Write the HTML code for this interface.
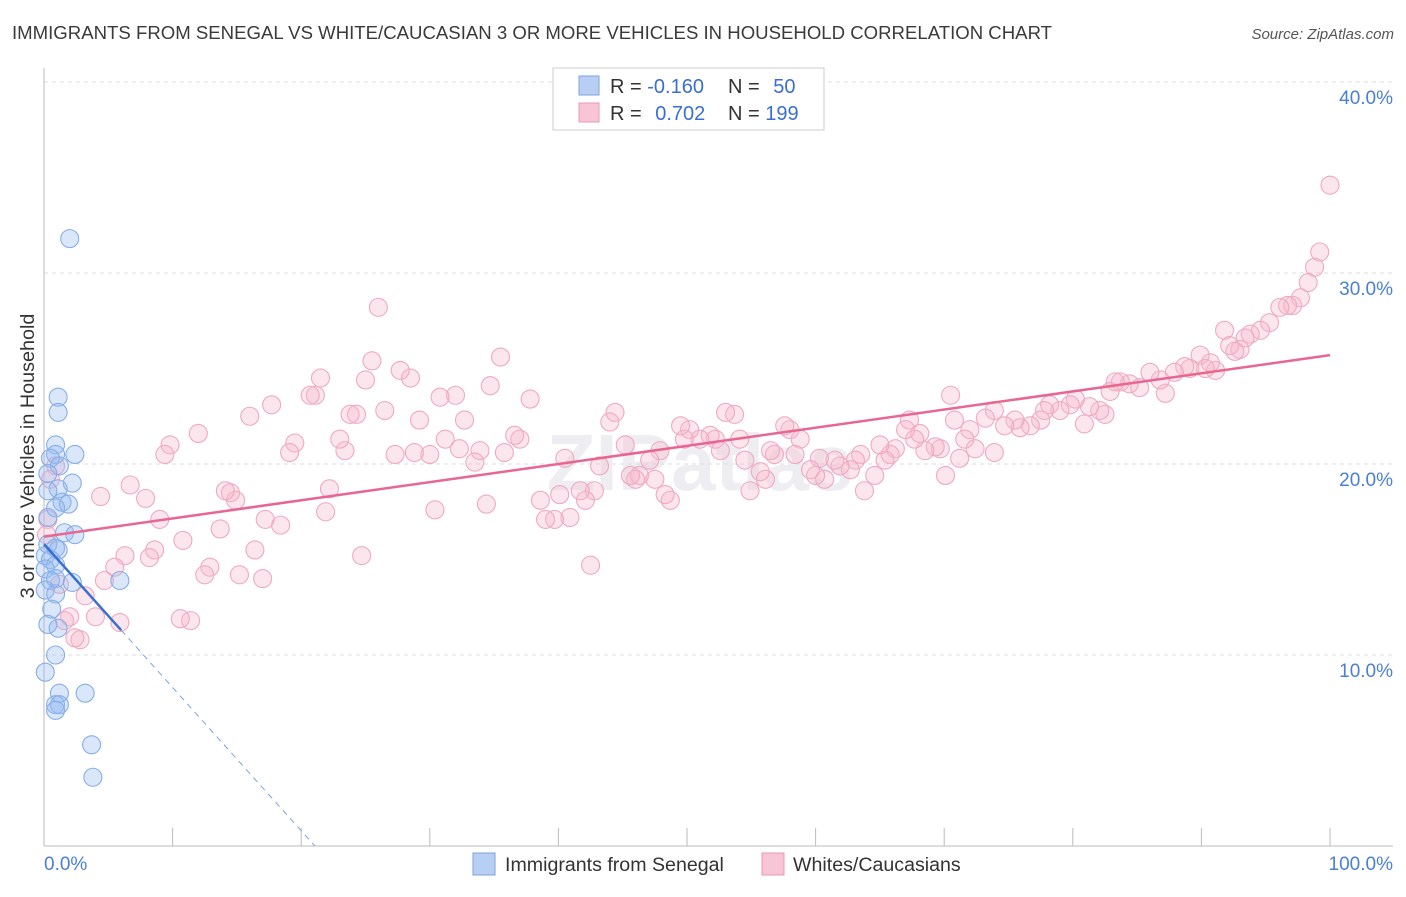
<!DOCTYPE html>
<html><head><meta charset="utf-8"><style>
body{margin:0;background:#fff;font-family:"Liberation Sans",sans-serif;}
svg text{font-family:"Liberation Sans",sans-serif;}
</style></head><body>
<svg id="chart" width="1406" height="892" xmlns="http://www.w3.org/2000/svg">
<text x="12" y="39" font-size="18.6" fill="#3a3a3a">IMMIGRANTS FROM SENEGAL VS WHITE/CAUCASIAN 3 OR MORE VEHICLES IN HOUSEHOLD CORRELATION CHART</text>
<text x="1394" y="39" font-size="15" fill="#555" text-anchor="end" font-style="italic">Source: ZipAtlas.com</text>
<text x="700" y="490" font-size="80" fill="#eeeef2" text-anchor="middle" font-weight="bold">ZIPatlas</text>
<g id="grid"></g>
<g id="axes"></g>
<g id="marks"></g>
<text transform="translate(34,456) rotate(-90)" font-size="19.8" fill="#333" text-anchor="middle">3 or more Vehicles in Household</text>
<g>
<rect x="553" y="68" width="271" height="62" fill="#fff" stroke="#ccc"/>
<rect x="579" y="76" width="20" height="19" fill="#b8cff3" stroke="#7ba3e0"/>
<rect x="579" y="103" width="20" height="19" fill="#f8c5d6" stroke="#e899b4"/>
<text x="610" y="93" font-size="20" fill="#333">R = <tspan fill="#3a6fd0">-0.160</tspan></text>
<text x="728" y="93" font-size="20" fill="#333">N = <tspan fill="#3a6fd0" dx="8">50</tspan></text>
<text x="610" y="120" font-size="20" fill="#333">R = <tspan fill="#3a6fd0" dx="8">0.702</tspan></text>
<text x="728" y="120" font-size="20" fill="#333">N = <tspan fill="#3a6fd0">199</tspan></text>
</g>
<rect x="473" y="853" width="22" height="22" fill="#b8cff3" stroke="#7ba3e0"/>
<text x="505" y="871" font-size="19.6" fill="#333">Immigrants from Senegal</text>
<rect x="762" y="853" width="22" height="22" fill="#f8c5d6" stroke="#e899b4"/>
<text x="793" y="871" font-size="19.6" fill="#333">Whites/Caucasians</text>
</svg>
<script>
const yTicks=[10,20,30,40];
const yTickLabels=["10.0%","20.0%","30.0%","40.0%"];
const xTickLabels=["0.0%","100.0%"];
const pinkX=[100.0,99.2,98.8,98.3,97.7,97.1,96.7,96.1,95.3,94.6,93.8,93.4,93.0,92.6,91.8,92.2,91.1,90.7,89.9,90.3,89.1,88.7,87.9,87.2,86.8,86.0,85.2,84.4,83.7,83.3,82.9,82.5,82.1,81.3,80.9,80.2,79.8,79.0,78.2,77.8,77.5,76.7,75.9,75.5,74.7,73.9,73.9,73.2,72.4,72.0,71.6,71.2,70.8,70.5,70.1,69.7,69.3,68.5,68.1,67.7,67.3,67.0,66.2,65.8,65.4,65.0,64.6,63.8,63.5,63.1,62.7,61.9,61.5,60.7,60.3,60.0,59.6,58.8,58.4,58.0,57.6,56.8,56.5,56.1,55.7,54.9,54.5,54.1,53.7,53.0,52.6,52.2,51.8,51.0,50.2,49.8,49.5,48.7,48.3,47.9,47.5,47.1,46.3,46.0,45.6,45.2,44.4,44.0,43.2,42.8,42.5,42.1,41.7,40.9,40.5,40.1,39.7,39.0,38.6,37.8,37.0,36.6,35.8,35.5,34.7,34.4,33.9,33.5,32.7,32.3,32.0,31.2,30.8,30.4,30.0,29.2,28.8,28.5,27.7,27.3,26.5,26.0,25.5,25.0,24.7,24.3,23.8,23.4,23.0,22.2,21.9,21.5,21.1,20.7,19.5,19.1,18.4,17.7,17.2,17.0,16.4,16.0,15.2,14.9,14.5,14.1,13.7,12.9,12.5,12.0,11.4,10.8,10.6,9.8,9.4,9.0,8.6,8.2,7.9,6.7,6.3,5.9,5.5,4.7,4.4,4.0,3.2,2.8,2.4,2.0,1.6,1.2,0.9,0.5,0.3,0.2];
const pinkY=[34.6,31.1,30.3,29.5,28.7,28.3,28.3,28.2,27.4,27.0,26.8,26.6,26.0,25.9,27.0,26.2,24.9,25.3,25.7,25.0,25.0,25.1,24.8,23.7,24.4,24.8,24.0,24.2,24.3,24.3,23.8,22.6,22.8,23.0,22.1,23.4,23.1,22.8,23.1,22.8,22.3,22.0,21.9,22.3,22.0,22.8,20.6,22.4,20.8,21.8,21.3,20.3,22.3,23.6,19.4,20.8,20.9,20.7,21.6,21.3,22.3,21.8,20.8,20.5,20.2,21.0,19.4,18.6,20.5,20.2,19.7,19.9,20.2,19.2,20.3,19.4,19.7,21.3,20.5,21.8,22.0,20.5,20.7,19.2,19.6,18.6,20.2,21.3,22.6,22.7,20.7,21.3,21.5,21.3,21.8,21.3,22.0,18.1,18.4,20.7,19.2,20.2,19.4,19.2,19.4,21.0,22.7,22.2,19.9,18.6,14.7,18.1,18.6,17.2,20.3,18.4,17.1,17.1,18.1,23.4,21.3,21.5,20.6,25.6,24.1,17.9,20.7,20.1,22.3,20.8,23.6,21.3,23.5,17.6,20.5,22.3,20.6,24.5,24.9,20.5,22.8,28.2,25.4,24.4,15.2,22.6,22.6,20.7,21.3,18.7,17.5,24.5,23.6,23.6,21.1,20.6,16.8,23.1,17.1,14.0,15.5,22.5,14.2,18.1,18.5,18.6,16.6,14.6,14.2,21.6,11.8,16.0,11.9,21.0,20.5,17.1,15.5,15.1,18.2,18.9,15.2,11.7,14.6,13.9,18.3,12.0,13.1,10.8,10.9,12.0,11.8,13.7,19.9,19.2,17.1,16.3];
const blueX=[2.0,1.1,1.1,0.9,0.9,0.5,1.2,2.4,0.3,2.2,1.1,0.3,1.4,1.9,0.9,0.3,1.6,2.4,0.3,0.9,0.1,1.1,0.5,0.9,0.1,0.5,0.9,0.1,0.9,2.2,5.9,0.6,0.3,1.1,0.9,0.1,1.2,3.2,0.9,1.2,0.9,3.7,3.8];
const blueY=[31.8,23.5,22.7,21.0,20.5,20.3,19.9,20.5,19.5,19.0,18.7,18.6,18.0,17.9,17.7,17.2,16.4,16.3,15.8,15.6,15.2,15.5,15.0,14.7,14.5,13.9,14.0,13.4,13.2,13.8,13.9,12.4,11.6,11.4,10.0,9.1,8.0,8.0,7.4,7.4,7.1,5.3,3.6];
const pinkTrend=[16.2,25.7];
const blueTrend=[15.8,-0.75];
const X=v=>44+v*12.86, Y=v=>846-v*19.1;
const NS="http://www.w3.org/2000/svg";
function mk(tag,attrs,parent){const e=document.createElementNS(NS,tag);for(const k in attrs)e.setAttribute(k,attrs[k]);document.getElementById(parent).appendChild(e);return e;}
yTicks.forEach((t,i)=>{
 const l=mk('line',{x1:44,x2:1393,y1:Y(t),y2:Y(t),stroke:'#dcdcdc','stroke-dasharray':'4,4'},'grid');
 
 
 const tx=mk('text',{x:1393,y:Y(t)+22,'font-size':19,fill:'#4a7fd4','text-anchor':'end'},'grid');
 tx.textContent=yTickLabels[i];
 
 
});
const ax=mk('line',{x1:44,x2:1393,y1:846,y2:846,stroke:'#bbb'},'axes');


const ay=mk('line',{x1:44,x2:44,y1:68,y2:846,stroke:'#bbb'},'axes');


for(let i=0;i<=10;i++){const t=mk('line',{x1:X(i*10),x2:X(i*10),y1:828,y2:846,stroke:'#bbb'},'axes');
 
 }
[[0,'start',44],[1,'end',1393]].forEach(([i,a,x])=>{const t=mk('text',{x:x,y:870,'font-size':19,fill:'#4a7fd4','text-anchor':a},'axes');t.textContent=xTickLabels[i];
 
 });
pinkX.forEach((v,i)=>{const c=mk('circle',{cx:X(v),cy:Y(pinkY[i]),r:9,fill:'rgba(246,182,204,0.35)',stroke:'#efa9c1','stroke-width':1.1},'marks');
 
 });
blueX.forEach((v,i)=>{const c=mk('circle',{cx:X(v),cy:Y(blueY[i]),r:9,fill:'rgba(150,185,240,0.35)',stroke:'#86aee6','stroke-width':1.1},'marks');
 
 });
const pl=mk('line',{x1:X(0),y1:Y(pinkTrend[0]),x2:X(100),y2:Y(pinkTrend[1]),stroke:'#e8668f','stroke-width':2.5},'marks');


const bEnd=6.0, bZero=-blueTrend[0]/blueTrend[1];
const bl=mk('line',{x1:X(0),y1:Y(blueTrend[0]),x2:X(bEnd),y2:Y(blueTrend[0]+blueTrend[1]*bEnd),stroke:'#3a6fd0','stroke-width':2.5},'marks');


const bd=mk('line',{x1:X(bEnd),y1:Y(blueTrend[0]+blueTrend[1]*bEnd),x2:X(bZero),y2:Y(0),stroke:'#7ba3e0','stroke-width':1,'stroke-dasharray':'6,5'},'marks');


</script>
</body></html>
